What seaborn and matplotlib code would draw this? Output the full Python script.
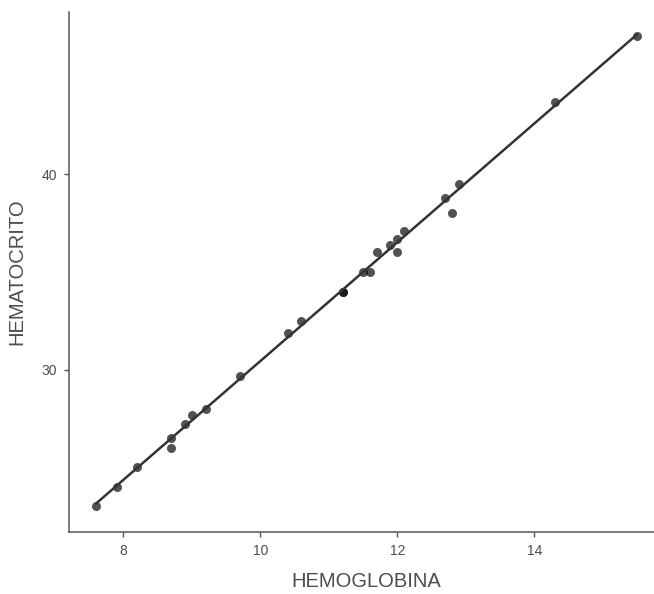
import matplotlib
matplotlib.use("Agg")
import matplotlib.pyplot as plt
import seaborn as sns
import pandas as pd

hemoglobina = [7.6, 7.9, 8.2, 8.7, 8.7, 8.9, 9.0, 9.2, 9.7, 10.4, 10.6, 11.2, 11.2,
               11.5, 11.6, 11.7, 11.9, 12.0, 12.0, 12.1, 12.7, 12.8, 12.9, 14.3, 15.5]
hematocrito = [23.0, 24.0, 25.0, 26.5, 26.0, 27.2, 27.7, 28.0, 29.7, 31.9, 32.5, 34.0, 34.0,
               35.0, 35.0, 36.0, 36.4, 36.7, 36.0, 37.1, 38.8, 38.0, 39.5, 43.7, 47.1]
xticks = [8, 10, 12, 14]
yticks = [30, 40]

df = pd.DataFrame({"HEMOGLOBINA": hemoglobina, "HEMATOCRITO": hematocrito})

sns.set_theme(style="ticks")
plt.rcParams['font.family'] = ['Liberation Sans', 'DejaVu Sans']

fig = plt.figure(figsize=(6.54, 5.94), dpi=100)
ax = fig.add_axes([69/654, 62/594, 595/654, 520/594])

sns.regplot(data=df, x="HEMOGLOBINA", y="HEMATOCRITO", ci=None, ax=ax,
            scatter_kws=dict(s=42, color="black", alpha=0.68, linewidths=0),
            line_kws=dict(color="#333333", lw=1.8))

ax.set_xlim(7.205, 15.895)
ax.set_ylim(21.69, 48.31)
ax.set_xticks(xticks)
ax.set_yticks(yticks)
for s in ["top", "right"]:
    ax.spines[s].set_visible(False)
for s in ["left", "bottom"]:
    ax.spines[s].set_color("#555555")
    ax.spines[s].set_linewidth(1.1)
ax.tick_params(axis="both", colors="#555555", labelcolor="#4d4d4d", labelsize=10,
               length=3.5, width=1.0, pad=5)
ax.set_xlabel("HEMOGLOBINA", fontsize=14.5, color="#4d4d4d", labelpad=10)
ax.set_ylabel("HEMATOCRITO", fontsize=14.5, color="#4d4d4d", labelpad=11)

fig.savefig("out.png", dpi=100)
